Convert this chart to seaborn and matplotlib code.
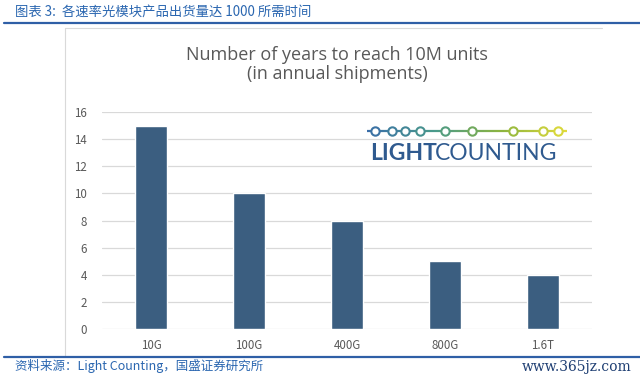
import matplotlib
matplotlib.use('Agg')
import matplotlib.pyplot as plt
import seaborn as sns
import pandas as pd
from matplotlib.lines import Line2D
from matplotlib.colors import LinearSegmentedColormap

# date
categorii = ['10G', '100G', '400G', '800G', '1.6T']
ani = [15, 10, 8, 5, 4]
y_ticks = [0, 2, 4, 6, 8, 10, 12, 14, 16]

df = pd.DataFrame({'Viteza': categorii, 'Ani': ani})

sns.set_theme(style='white')
plt.rcParams['font.family'] = ['Noto Sans CJK SC', 'DejaVu Sans']

fig = plt.figure(figsize=(6.4, 3.82), dpi=100)
W, H = 640, 382

def fx(px):
    return px / W

def fy(py):
    return 1 - py / H

# chenar interior al graficului
fig.add_artist(Line2D([fx(65), fx(65)], [fy(28), fy(356)], color='#d9d9d9', lw=0.8))
fig.add_artist(Line2D([fx(65), fx(602)], [fy(28), fy(28)], color='#d9d9d9', lw=0.8))

# linii albastre sus / jos
fig.add_artist(Line2D([fx(4), fx(640)], [fy(23), fy(23)], color='#2f5fa6', lw=1.6))
fig.add_artist(Line2D([fx(4), fx(640)], [fy(357), fy(357)], color='#2f5fa6', lw=1.6))

ax = fig.add_axes([fx(102), fy(329), fx(592) - fx(102), (329 - 112) / H])
sns.barplot(data=df, x='Viteza', y='Ani', color='#3b5e80', width=0.32, ax=ax,
            saturation=1, zorder=3)
ax.set_xlim(-0.5, 4.5)
ax.set_ylim(0, 16)
ax.set_yticks(y_ticks)
ax.grid(axis='y', color='#d9d9d9', lw=0.9, zorder=0)
ax.set_axisbelow(True)
for s in ax.spines.values():
    s.set_visible(False)
ax.set_xlabel('')
ax.set_ylabel('')
ax.tick_params(axis='both', length=0, labelsize=8.3, labelcolor='#595959')
ax.tick_params(axis='y', pad=11)
ax.tick_params(axis='x', pad=7)
ax.patch.set_alpha(0)

# titlul graficului
fig.text(fx(337), fy(55), 'Number of years to reach 10M units', ha='center', va='center',
         fontsize=13, color='#595959', family='Open Sans')
fig.text(fx(337), fy(74), '(in annual shipments)', ha='center', va='center',
         fontsize=13, color='#595959', family='Open Sans')

# logo LightCounting
cx = [375, 392, 405, 420, 445, 472, 513, 543, 558]
gradient = LinearSegmentedColormap.from_list('lc', ['#3a6ea8', '#4a9a8a', '#8db43e', '#e3dc3c'])
n = 60
for i in range(n):
    x0 = 367 + 200 * i / n
    x1 = 367 + 200 * (i + 1) / n
    fig.add_artist(Line2D([fx(x0), fx(x1)], [fy(131), fy(131)], color=gradient(i / n), lw=1.6,
                          solid_capstyle='butt'))
for c in cx:
    col = gradient((c - 367) / 200)
    fig.add_artist(Line2D([fx(c)], [fy(131)], marker='o', markersize=6, mfc='white',
                          mec=col, mew=1.5))
fig.text(fx(370), fy(153), 'LIGHT', ha='left', va='center', fontsize=16.5, fontweight='bold',
         color='#2f5a8f', family='Lato')
fig.text(fx(435), fy(153), 'COUNTING', ha='left', va='center', fontsize=16.5,
         color='#2f5a8f', family='Lato')

# antet si sursa
fig.text(fx(15), fy(12), '图表 3:  各速率光模块产品出货量达 1000 所需时间', ha='left', va='center',
         fontsize=9.6, color='#2a66b0')
fig.text(fx(15), fy(366), '资料来源：Light Counting，国盛证券研究所', ha='left', va='center',
         fontsize=9, color='#2a66b0')
fig.text(fx(632), fy(367), 'www.365jz.com', ha='right', va='center',
         fontsize=10, color='#1f3f73', family='DejaVu Serif')

fig.savefig('out.png', dpi=100)
